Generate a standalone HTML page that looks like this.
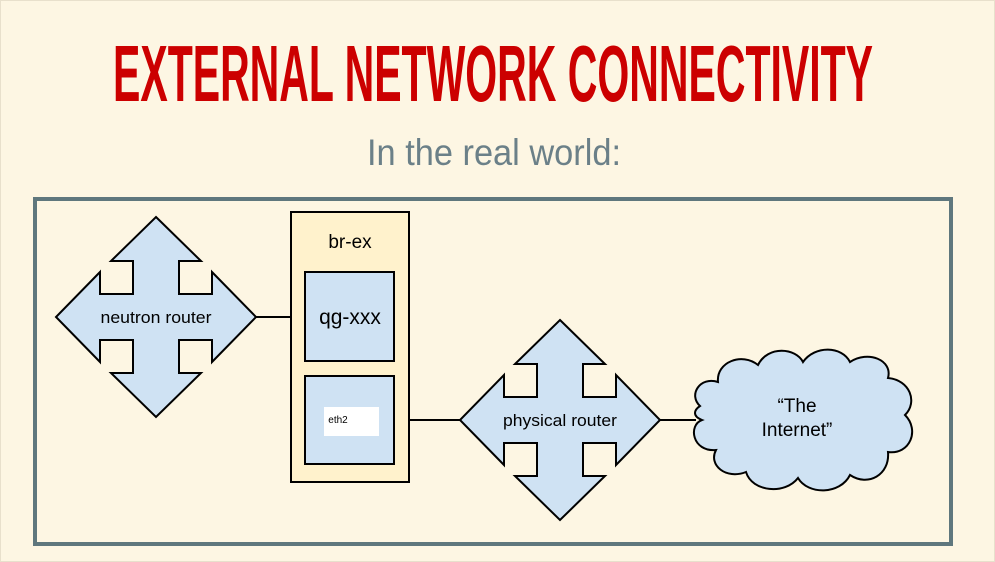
<!DOCTYPE html>
<html><head><meta charset="utf-8"><style>
html,body{margin:0;padding:0;background:#fdf6e3;}
svg{display:block}
</style></head><body>
<svg width="995" height="562" viewBox="0 0 995 562" xmlns="http://www.w3.org/2000/svg">
<rect x="0" y="0" width="995" height="562" fill="#fdf6e3"/>
<rect x="0.5" y="0.5" width="994" height="561" fill="none" stroke="#e8e0cc" stroke-width="1"/>
<text x="113" y="101" font-family="Liberation Sans Narrow, Liberation Sans, sans-serif" font-weight="bold" font-size="80" fill="#cc0000" textLength="760" lengthAdjust="spacingAndGlyphs">EXTERNAL NETWORK CONNECTIVITY</text>
<text x="367" y="165" font-family="Liberation Sans, sans-serif" font-size="37" fill="#6b8088" textLength="254" lengthAdjust="spacingAndGlyphs">In the real world:</text>
<rect x="35" y="199" width="916" height="345" fill="#fdf6e3" stroke="#5f777d" stroke-width="4"/>
<defs>
<polygon id="arr" points="0,-100 45,-56 23,-56 23,-23 56,-23 56,-45 100,0 56,45 56,23 23,23 23,56 45,56 0,100 -45,56 -23,56 -23,23 -56,23 -56,45 -100,0 -56,-45 -56,-23 -23,-23 -23,-56 -45,-56" fill="#cfe2f3" stroke="#000" stroke-width="2" stroke-linejoin="miter"/>
</defs>
<g stroke="#000" stroke-width="2">
<line x1="256" y1="317" x2="305" y2="317"/>
<line x1="394" y1="420" x2="461" y2="420"/>
<line x1="660" y1="420" x2="696" y2="420"/>
</g>
<use href="#arr" transform="translate(156,317)"/>
<use href="#arr" transform="translate(560,420)"/>
<rect x="291" y="212" width="118" height="270" fill="#fff2cc" stroke="#000" stroke-width="2"/>
<rect x="305" y="272" width="89" height="89" fill="#cfe2f3" stroke="#000" stroke-width="2"/>
<rect x="305" y="376" width="89" height="88" fill="#cfe2f3" stroke="#000" stroke-width="2"/>
<rect x="324" y="407" width="55" height="29" fill="#fff"/>
<path d="M700,406 C688,395 700,376 718,382 C716,362 742,352 758,365 C768,345 796,348 803,362 C815,345 842,346 850,362 C868,350 893,360 888,378 C910,380 918,402 905,415 C920,430 910,455 888,452 C890,475 868,487 850,475 C840,495 808,495 798,478 C785,495 752,492 746,472 C726,480 708,465 716,450 C692,452 688,425 702,420 C692,416 694,410 700,406 Z" fill="#cfe2f3" stroke="#000" stroke-width="2"/>
<g font-family="Liberation Sans, sans-serif" fill="#000" text-anchor="middle">
<text x="156" y="323" font-size="17" textLength="111" lengthAdjust="spacingAndGlyphs">neutron router</text>
<text x="560" y="426" font-size="17" textLength="114" lengthAdjust="spacingAndGlyphs">physical router</text>
<text x="350" y="248" font-size="19">br-ex</text>
<text x="350" y="324" font-size="21">qg-xxx</text>
<text x="797" y="412" font-size="19">“The</text>
<text x="797" y="436" font-size="19">Internet”</text>
<text x="338" y="423" font-size="10">eth2</text>
</g>
</svg>
</body></html>
